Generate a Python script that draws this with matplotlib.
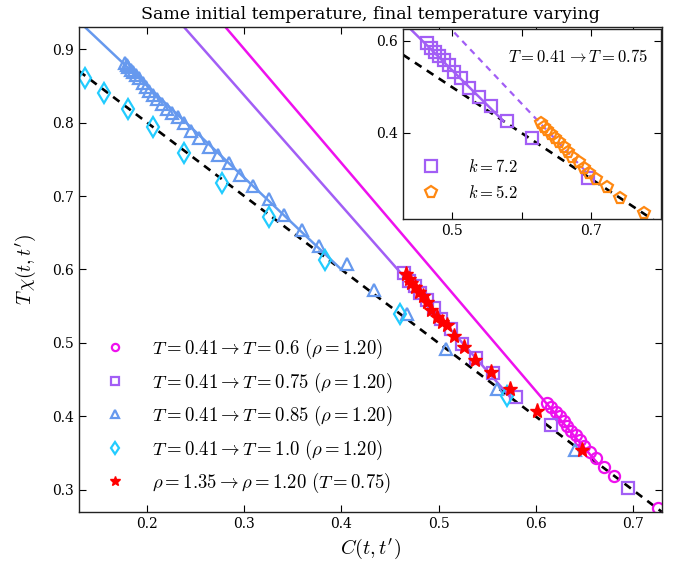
import numpy as np
import matplotlib
matplotlib.use('Agg')
import matplotlib.pyplot as plt

plt.rcParams['font.family'] = 'DejaVu Serif'
plt.rcParams['mathtext.fontset'] = 'cm'

# T=0.41 -> T=0.6 (rho=1.20)
C_06 = [0.6115, 0.616, 0.6204, 0.6249, 0.629, 0.6325, 0.6366, 0.641, 0.6454,
        0.6496, 0.6557, 0.6616, 0.6702, 0.6805, 0.7259]
TX_06 = [0.4179, 0.4124, 0.4056, 0.4011, 0.3943, 0.3874, 0.3806, 0.3747, 0.3679,
         0.3601, 0.351, 0.3434, 0.3315, 0.3192, 0.276]

# T=0.41 -> T=0.75 (rho=1.20), k=7.2
C_075 = [0.4645, 0.470, 0.4755, 0.481, 0.4885, 0.4957, 0.503, 0.5125, 0.5245,
         0.539, 0.5557, 0.5796, 0.6155, 0.6947]
TX_075 = [0.595, 0.585, 0.577, 0.568, 0.559, 0.548, 0.533, 0.519, 0.4985,
          0.479, 0.459, 0.426, 0.3885, 0.303]

# T=0.41 -> T=0.85 (rho=1.20)
C_085 = [0.1774, 0.1792, 0.1808, 0.1833, 0.186, 0.1888, 0.1922, 0.1957, 0.1991,
         0.2025, 0.2066, 0.2107, 0.2153, 0.2204, 0.2256, 0.2314, 0.2382, 0.2455,
         0.254, 0.2633, 0.2726, 0.2839, 0.296, 0.3091, 0.3252, 0.3413, 0.3596,
         0.3765, 0.406, 0.4341, 0.4671, 0.5073, 0.5599, 0.6403]
TX_085 = [0.8809, 0.8786, 0.8754, 0.8718, 0.8681, 0.8649, 0.8604, 0.8544, 0.849,
          0.8435, 0.8377, 0.8318, 0.8254, 0.8181, 0.8135, 0.8072, 0.799, 0.7889,
          0.7786, 0.7671, 0.7558, 0.7445, 0.7285, 0.7135, 0.6954, 0.6739, 0.6535,
          0.632, 0.607, 0.5726, 0.5398, 0.4921, 0.4375, 0.3543]

# T=0.41 -> T=1.0 (rho=1.20)
C_10 = [0.1362, 0.1561, 0.1802, 0.206, 0.2382, 0.2771, 0.3252, 0.3836, 0.4602, 0.5709]
TX_10 = [0.8604, 0.84, 0.8181, 0.7936, 0.7581, 0.7172, 0.6716, 0.6125, 0.5398, 0.4284]

# rho=1.35 -> rho=1.20 (T=0.75)
C_RHO = [0.4661, 0.4695, 0.472, 0.4753, 0.4798, 0.4842, 0.4884, 0.4925, 0.4987,
         0.5038, 0.5083, 0.5158, 0.5261, 0.5372, 0.5544, 0.5736, 0.6011, 0.648]
TX_RHO = [0.5944, 0.5876, 0.5816, 0.5762, 0.5693, 0.5634, 0.5557, 0.5453, 0.5352,
          0.5284, 0.5239, 0.5089, 0.4943, 0.4771, 0.4602, 0.4375, 0.4079, 0.3543]

# k=5.2 run at T=0.41 -> T=0.75
C_K52 = [0.6276, 0.6324, 0.6371, 0.642, 0.6482, 0.654, 0.6602, 0.666, 0.673,
         0.6817, 0.690, 0.697, 0.7068, 0.722, 0.7417, 0.776]
TX_K52 = [0.421, 0.4137, 0.4065, 0.3972, 0.3885, 0.3798, 0.370, 0.3593, 0.3485,
          0.3363, 0.3233, 0.3124, 0.300, 0.282, 0.2583, 0.2254]

# straight-line fits  T chi = a - b C  (drawn until they meet the FDT line 1 - C)
FIT_06 = (1.365, 1.55)
FIT_075 = (1.287, 1.50)
FIT_085 = (1.100, 1.25)
FIT_K52 = (1.424, 1.60)

MAGENTA = '#ee11ee'
PURPLE = '#a25ef5'
BLUE = '#6699ee'
CYAN = '#22ccff'
ORANGE = '#ff8811'


def fit_line(ax, fit, c_min, **kw):
    a, b = fit
    c_end = (a - 1.0) / (b - 1.0)
    c = np.linspace(c_min, c_end, 50)
    ax.plot(c, a - b * c, **kw)


def fdt_line(ax, c_min, c_max):
    c = np.linspace(c_min, c_max, 50)
    ax.plot(c, 1 - c, 'k--', lw=1.9, dashes=(3.0, 2.4), zorder=1)


def style_axes(ax):
    ax.tick_params(direction='in', top=True, right=True, length=5, width=0.8,
                   labelsize=10)
    for sp in ax.spines.values():
        sp.set_linewidth(1.0)
        sp.set_color('#222222')


fig = plt.figure(figsize=(6.78, 5.61), dpi=100)
ax = fig.add_axes([79 / 678, 1 - 512 / 561, 583 / 678, 485 / 561])

fdt_line(ax, 0.13, 0.73)
fit_line(ax, FIT_06, 0.13, color=MAGENTA, lw=1.8, zorder=2)
fit_line(ax, FIT_075, 0.13, color=PURPLE, lw=1.8, zorder=2)
fit_line(ax, FIT_085, 0.13, color=BLUE, lw=1.8, zorder=2)

mk = dict(ls='none', mfc='none', mew=1.6)
ax.plot(C_06, TX_06, 'o', color=MAGENTA, ms=8, label=r'$T=0.41\rightarrow T=0.6\ (\rho=1.20)$', **mk)
ax.plot(C_075, TX_075, 's', color=PURPLE, ms=8, label=r'$T=0.41\rightarrow T=0.75\ (\rho=1.20)$', **mk)
ax.plot(C_085, TX_085, '^', color=BLUE, ms=9, label=r'$T=0.41\rightarrow T=0.85\ (\rho=1.20)$', **mk)
ax.plot(C_10, TX_10, 'd', color=CYAN, ms=10, label=r'$T=0.41\rightarrow T=1.0\ (\rho=1.20)$', **mk)
ax.plot(C_RHO, TX_RHO, '*', color='red', mec='red', ms=11, ls='none',
        label=r'$\rho=1.35\rightarrow\rho=1.20\ (T=0.75)$')

ax.set_xlim(0.13, 0.73)
ax.set_ylim(0.27, 0.93)
ax.set_xticks([0.2, 0.3, 0.4, 0.5, 0.6, 0.7])
ax.set_yticks([0.3, 0.4, 0.5, 0.6, 0.7, 0.8, 0.9])
style_axes(ax)
ax.set_xlabel(r"$C(t,t')$", fontsize=14.5)
ax.set_ylabel(r"$T\,\chi(t,t')$", fontsize=14, labelpad=10)
ax.set_title('Same initial temperature, final temperature varying', fontsize=12.5)
ax.legend(loc='lower left', bbox_to_anchor=(0.017, 0.0), frameon=False, numpoints=1,
          fontsize=13.5, markerscale=0.65, handlelength=1.0, handletextpad=1.45,
          labelspacing=0.5)

# inset: two values of k at the same quench
axi = fig.add_axes([403 / 678, 1 - 219 / 561, 258 / 678, 190 / 561])
fdt_line(axi, 0.43, 0.80)
fit_line(axi, FIT_075, 0.43, color=PURPLE, lw=1.8, zorder=2)
fit_line(axi, FIT_K52, 0.43, color=PURPLE, lw=1.6, ls='--', dashes=(2.8, 2.4), zorder=2)
axi.plot(C_075, TX_075, 's', color=PURPLE, ms=8, label=r'$k=7.2$', **mk)
axi.plot(C_K52, TX_K52, 'p', color=ORANGE, ms=8.5, label=r'$k=5.2$', **mk)
axi.set_xlim(0.43, 0.80)
axi.set_ylim(0.213, 0.626)
axi.set_xticks([0.5, 0.6, 0.7])
axi.set_xticklabels(['0.5', '', '0.7'])
axi.set_yticks([0.4, 0.6])
style_axes(axi)
axi.text(0.95, 0.85, r'$T=0.41\rightarrow T=0.75$', transform=axi.transAxes,
         ha='right', va='center', fontsize=12)
axi.legend(loc='lower left', bbox_to_anchor=(0.02, 0.01), frameon=False, numpoints=1,
           fontsize=12, markerscale=1.0, handlelength=1.0, handletextpad=1.7,
           labelspacing=0.55)

fig.savefig('out.png', dpi=100)
